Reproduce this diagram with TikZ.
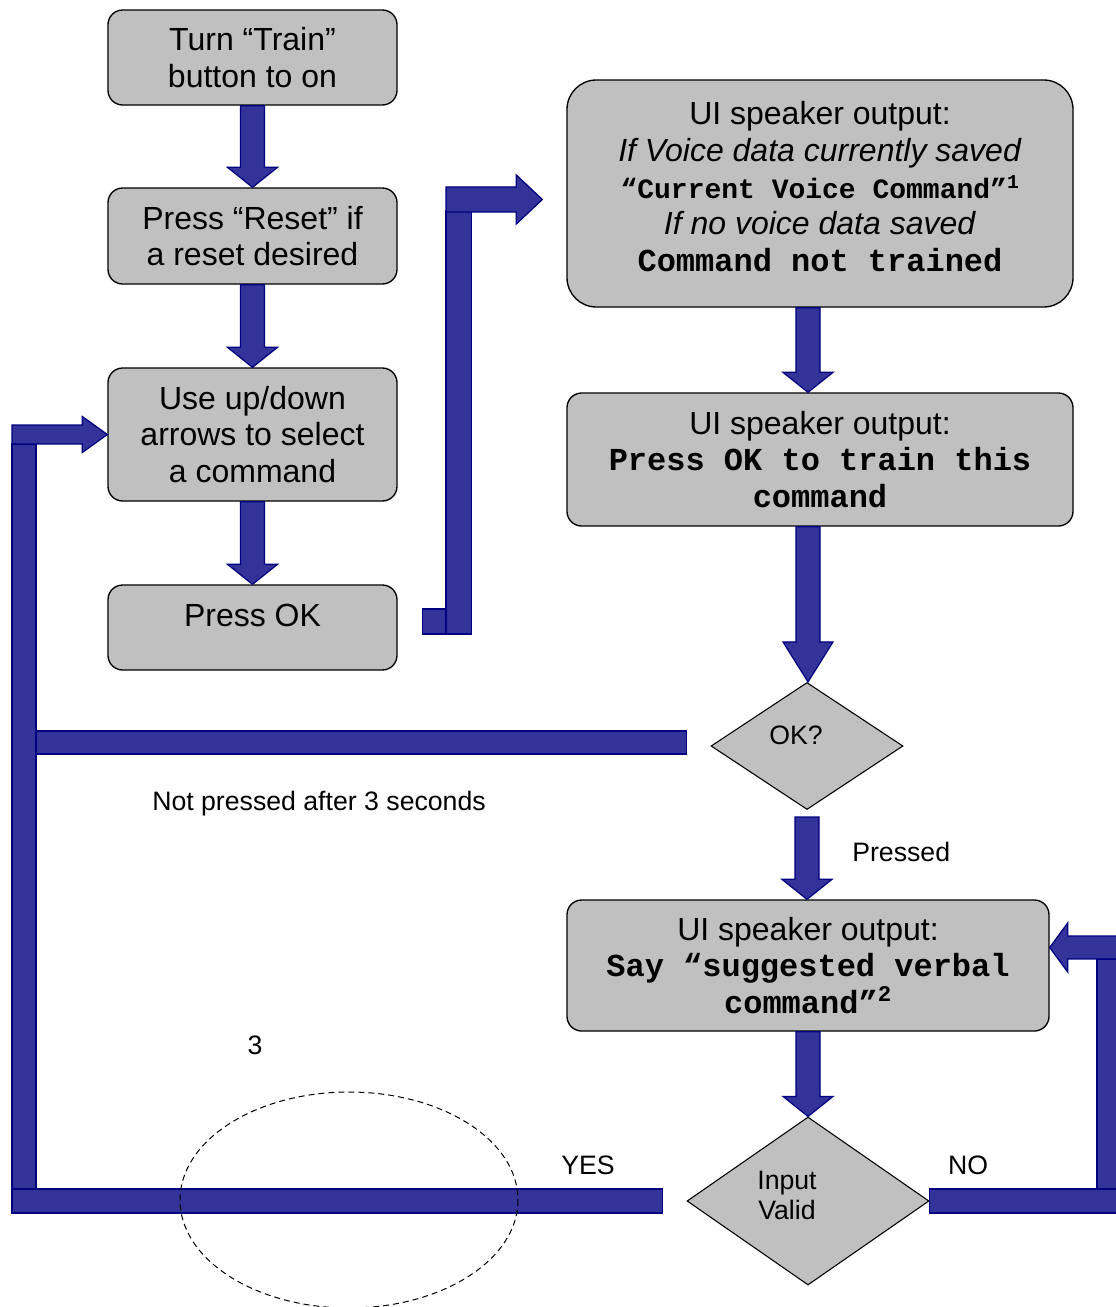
\documentclass[tikz,border=0pt]{standalone}
\usepackage{fontspec}
\setmainfont{Liberation Sans}
\setmonofont{Liberation Mono}
\usetikzlibrary{shapes.geometric,calc}

\definecolor{boxgray}{HTML}{C0C0C0}
\definecolor{blkfill}{HTML}{333399}
\definecolor{blkline}{HTML}{000080}

% block arrow pointing down: start, tip, head length
\newcommand{\blkv}[3]{%
  \path[blk] let \p1=(#1), \p2=(#2) in
    (\x1-9pt,\y1) -- (\x1+9pt,\y1) -- (\x1+9pt,\y2+#3) -- (\x1+18.75pt,\y2+#3)
    -- (\x1,\y2) -- (\x1-18.75pt,\y2+#3) -- (\x1-9pt,\y2+#3) -- cycle;}
% block arrow horizontal: start, tip, shaft half, head half, head length
\newcommand{\blkh}[5]{%
  \path[blk] let \p1=(#1), \p2=(#2) in
    (\x1,\y2+#3) -- ({\x2-(#5)},\y2+#3) -- ({\x2-(#5)},\y2+#4) -- (\x2,\y2)
    -- ({\x2-(#5)},\y2-#4) -- ({\x2-(#5)},\y2-#3) -- (\x1,\y2-#3) -- cycle;}

\begin{document}
\begin{tikzpicture}[x=0.75pt,y=-0.75pt,
    box/.style={draw=black, fill=boxgray, line width=1pt, rounded corners=11pt,
        align=center, inner sep=0pt, font=\fontsize{24}{27.5}\selectfont},
    decision/.style={diamond, draw=black, fill=boxgray, line width=0.8pt, inner sep=0pt},
    blk/.style={fill=blkfill, draw=blkline, line width=0.9pt},
    lbl/.style={font=\fontsize{20}{22.5}\selectfont, inner sep=0pt},
    cmd/.style={font=\ttfamily\bfseries}
]
    \useasboundingbox (0,0) rectangle (1115,1307);

    \node[box, minimum width=216.75pt, minimum height=71.25pt] (box1) at (252.5,57.5)
        {Turn “Train”\\button to on};
    \node[box, minimum width=216.75pt, minimum height=72pt] (box2) at (252.5,236)
        {Press “Reset” if\\a reset desired};
    \node[box, minimum width=216.75pt, minimum height=99.75pt] (box3) at (252.5,434.5)
        {Use up/down\\arrows to select\\a command};
    \node[box, minimum width=216.75pt, minimum height=63.75pt, text depth=18.75pt] (box4) at (252.5,627.5)
        {Press OK};
    \node[box, rounded corners=22pt, minimum width=379.5pt, minimum height=170.25pt, text depth=10.5pt] (box5) at (820,193.5)
        {UI speaker output:\\
         \textit{If Voice data currently saved}\\
         {\ttfamily\bfseries\fontsize{21}{27.5}\selectfont “Current Voice Command”\textsuperscript{1}}\\
         \textit{If no voice data saved}\\
         {\ttfamily\bfseries Command not trained}};
    \node[box, minimum width=379.5pt, minimum height=99.75pt] (box6) at (820,459.5)
        {UI speaker output:\\
         {\ttfamily\bfseries Press OK to train this}\\
         {\ttfamily\bfseries command}};
    \node[box, minimum width=361.5pt, minimum height=98.25pt] (box7) at (808,965.5)
        {UI speaker output:\\
         {\ttfamily\bfseries Say “suggested verbal}\\
         {\ttfamily\bfseries command”\textsuperscript{2}}};
    \node[decision, minimum width=144pt, minimum height=95.25pt,
        label={[lbl, name=oktext, xshift=-8.25pt, yshift=8.25pt]center:OK?}] (ok) at (807,746) {};
    \node[decision, minimum width=181.5pt, minimum height=126pt,
        label={[lbl, name=validtext, align=center, xshift=-15.75pt, yshift=4.5pt]center:Input\\Valid}] (valid) at (808,1201) {};

    % main column
    \blkv{box1.south}{box2.north}{15pt}
    \blkv{box2.south}{box3.north}{15pt}
    \blkv{box3.south}{box4.north}{15pt}
    \blkv{box7.north |- box5.south}{box7.north |- box6.north}{15pt}
    \blkv{box7.north |- box6.south}{ok.north}{30pt}
    \blkv{$(ok.south)+(0,7)$}{box7.north}{15pt}
    \blkv{box7.south}{valid.north}{15pt}

    % Press OK to speaker output
    \coordinate (brtip) at ($(box5.west)+(-24,6)$);
    \path[blk] ($(box4.east)+(25,-18.5)$) rectangle ($(box4.east)+(49,6.5)$);
    \path[blk] (446,211) rectangle ($(box4.east)+(74,6.5)$);
    \blkh{446,199.5}{brtip}{9.4pt}{18.4pt}{19.5pt}

    % back to the command list
    \path[blk] (12,444) rectangle (36,1189);
    \path[blk] (36,731) rectangle ($(ok.west)+(-24,8)$);
    \path[blk] (12,1189) rectangle ($(valid.west)+(-24,12)$);
    \blkh{12,434.5}{box3.west}{7.1pt}{13.5pt}{18.75pt}

    % retry loop
    \coordinate (notip) at ($(box7.east)+(0,-18)$);
    \path[blk] ($(valid.east)+(0,-12)$) rectangle (1121,1213);
    \path[blk] (1097,959) rectangle (1121,1189);
    \blkh{1121,947.5}{notip}{8.6pt}{18.4pt}{-13.5pt}

    \node[lbl, anchor=west] (notpressed) at (152,804) {Not pressed after 3 seconds};
    \node[lbl, anchor=west] (pressed) at (852,852) {Pressed};
    \node[lbl] (yes) at (588,1165) {YES};
    \node[lbl] (no) at (968,1165) {NO};
    \node[lbl] (three) at (255,1045) {3};

    \draw[dashed, line width=0.75pt, dash pattern=on 4.5pt off 3pt]
        (349,1200) ellipse [x radius=169, y radius=108];
\end{tikzpicture}
\end{document}
